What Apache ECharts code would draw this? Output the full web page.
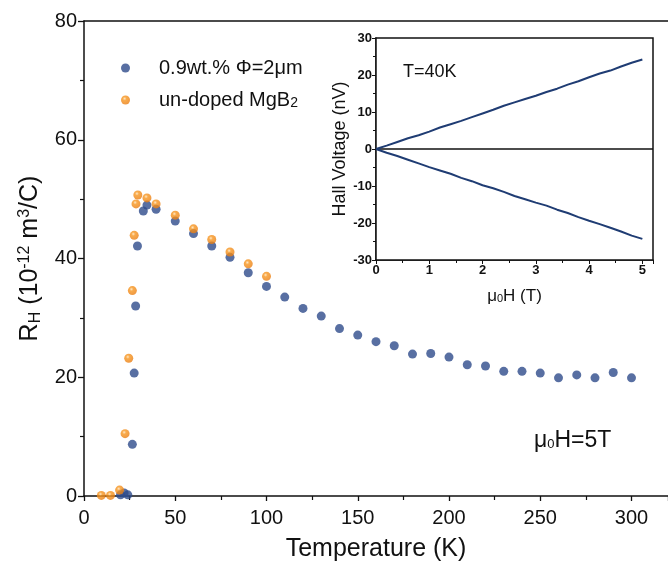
<!DOCTYPE html>
<html>
<head>
<meta charset="utf-8">
<script src="https://cdn.jsdelivr.net/npm/echarts@6/dist/echarts.min.js"></script>
<style>html,body{margin:0;padding:0;background:#fff}#c{width:668px;height:567px}</style>
</head>
<body>
<div id="c"></div>
<script>
// Main chart: Hall coefficient R_H vs temperature (mu0H = 5 T)
const dopedT = [20, 22, 24, 26.5, 27.5, 28.3, 29.3, 32.5, 34.5, 39.5, 50, 60, 70, 80, 90, 100, 110, 120, 130, 140, 150, 160, 170, 180, 190, 200, 210, 220, 230, 240, 250, 260, 270, 280, 290, 300];
const dopedRH = [0.2, 0.5, 0.2, 8.7, 20.7, 32.0, 42.1, 48.0, 49.0, 48.3, 46.3, 44.2, 42.1, 40.2, 37.6, 35.3, 33.5, 31.6, 30.3, 28.2, 27.1, 26.0, 25.3, 23.9, 24.0, 23.4, 22.1, 21.9, 21.0, 21.0, 20.7, 19.9, 20.4, 19.9, 20.8, 19.9];
const undopedT = [9.5, 14.5, 19.5, 22.5, 24.5, 26.5, 27.5, 28.5, 29.5, 34.5, 39.5, 50, 60, 70, 80, 90, 100];
const undopedRH = [0.1, 0.1, 1.0, 10.5, 23.2, 34.6, 43.9, 49.2, 50.7, 50.2, 49.2, 47.3, 45.0, 43.2, 41.1, 39.1, 37.0];
const seriesNames = ['0.9wt.% Φ=2μm', 'un-doped MgB2'];
const xTicks = [0, 50, 100, 150, 200, 250, 300];
const yTicks = [0, 20, 40, 60, 80];

// Inset: Hall voltage vs field at T = 40 K
const insetH = [0, 0.2, 0.4, 0.6, 0.8, 1.0, 1.2, 1.4, 1.6, 1.8, 2.0, 2.2, 2.4, 2.6, 2.8, 3.0, 3.2, 3.4, 3.6, 3.8, 4.0, 4.2, 4.4, 4.6, 4.8, 5.0];
const insetUp = [0, 0.9, 1.9, 2.9, 3.7, 4.7, 5.8, 6.7, 7.6, 8.6, 9.6, 10.6, 11.7, 12.6, 13.5, 14.4, 15.4, 16.3, 17.4, 18.3, 19.4, 20.4, 21.2, 22.3, 23.3, 24.2];
const insetDown = [0, -1.0, -1.9, -2.9, -3.9, -4.9, -5.8, -6.7, -7.8, -8.7, -9.8, -10.6, -11.6, -12.7, -13.6, -14.5, -15.3, -16.4, -17.3, -18.4, -19.4, -20.3, -21.3, -22.3, -23.4, -24.3];

const pair = (xs, ys) => xs.map((x, i) => [x, ys[i]]);
const chart = echarts.init(document.getElementById('c'), null, {renderer: 'canvas'});
const FONT = 'Liberation Sans, Arial, sans-serif';
const navy = '#2e4b8b';
const orangeGrad = {type: 'radial', x: 0.4, y: 0.35, r: 0.7, colorStops: [
  {offset: 0, color: '#ffe2b8'}, {offset: 0.3, color: '#f7961f'}, {offset: 1, color: '#e97c12'}]};

chart.setOption({
  animation: false,
  backgroundColor: '#fff',
  textStyle: {fontFamily: FONT},
  grid: [
    {left: 84, top: 21, right: 0, bottom: 71, show: false},
    {left: 376, top: 38, width: 277, height: 222, show: true, backgroundColor: '#fff', borderColor: '#111', borderWidth: 1.5, z: 5}
  ],
  legend: {
    data: seriesNames, orient: 'vertical', left: 116, top: 53, itemGap: 12,
    icon: 'circle', itemWidth: 9, itemHeight: 9,
    textStyle: {fontSize: 20, color: '#111', fontFamily: FONT, padding: [0, 0, 0, 24],
      rich: {s: {fontSize: 14, fontFamily: FONT, color: '#111', padding: [7, 0, 0, 0]}}},
    formatter: n => n === 'un-doped MgB2' ? 'un-doped MgB{s|2}' : n
  },
  xAxis: [
    {gridIndex: 0, type: 'value', min: 0, max: 320, interval: 50,
      name: 'Temperature (K)', nameLocation: 'middle', nameGap: 41,
      nameTextStyle: {fontSize: 25, color: '#111', fontFamily: FONT},
      axisLine: {lineStyle: {color: '#111', width: 1.5}},
      axisTick: {length: 5, lineStyle: {color: '#111', width: 1.3}},
      minorTick: {show: true, splitNumber: 2, length: 4, lineStyle: {color: '#111', width: 1.2}},
      axisLabel: {fontSize: 20, color: '#111', margin: 12, showMaxLabel: false,
        formatter: v => xTicks.includes(v) ? String(v) : ''},
      splitLine: {show: false}},
    {gridIndex: 0, type: 'value', position: 'top', min: 0, max: 320,
      axisLine: {show: true, lineStyle: {color: '#111', width: 1.5}},
      axisTick: {show: false}, axisLabel: {show: false}, splitLine: {show: false}},
    {gridIndex: 1, type: 'value', min: 0, max: 5.2, interval: 1,
      name: '{t|μ}{s|0}{t|H (T)}', nameLocation: 'middle', nameGap: 28,
      nameTextStyle: {rich: {t: {fontSize: 17, color: '#111', fontFamily: FONT},
        s: {fontSize: 11, color: '#111', fontFamily: FONT, padding: [5, 0, 0, 0]}}},
      axisLine: {onZero: false, lineStyle: {color: '#111', width: 1.5}},
      axisTick: {length: 4, lineStyle: {color: '#111'}},
      minorTick: {show: true, splitNumber: 2, length: 3, lineStyle: {color: '#111'}},
      axisLabel: {fontSize: 13, fontWeight: 'bold', color: '#111', margin: 4, showMaxLabel: false,
        formatter: v => Number.isInteger(v) ? String(v) : ''},
      splitLine: {show: false}}
  ],
  yAxis: [
    {gridIndex: 0, type: 'value', min: 0, max: 80, interval: 20,
      name: '{b|R}{s|H}{b| (10}{p|-12}{b| m}{p|3}{b|/C)}', nameLocation: 'middle', nameGap: 36, nameRotate: 90,
      nameTextStyle: {rich: {
        b: {fontSize: 25, color: '#111', fontFamily: FONT, lineHeight: 30},
        s: {fontSize: 16, color: '#111', fontFamily: FONT, padding: [11, 0, 0, 0], lineHeight: 30},
        p: {fontSize: 16, color: '#111', fontFamily: FONT, padding: [0, 0, 11, 0], lineHeight: 30}}},
      axisLine: {lineStyle: {color: '#111', width: 1.5}},
      axisTick: {length: 6, lineStyle: {color: '#111', width: 1.3}},
      minorTick: {show: true, splitNumber: 2, length: 4, lineStyle: {color: '#111', width: 1.2}},
      axisLabel: {fontSize: 20, color: '#111', margin: 7},
      splitLine: {show: false}},
    {gridIndex: 1, type: 'value', min: -30, max: 30, interval: 10,
      name: 'Hall Voltage (nV)', nameLocation: 'middle', nameGap: 27, nameRotate: 90,
      nameTextStyle: {fontSize: 18, color: '#111', fontFamily: FONT},
      axisLine: {onZero: false, lineStyle: {color: '#111', width: 1.5}},
      axisTick: {length: 4, lineStyle: {color: '#111'}},
      minorTick: {show: true, splitNumber: 2, length: 3, lineStyle: {color: '#111'}},
      axisLabel: {fontSize: 13, fontWeight: 'bold', color: '#111', margin: 4},
      splitLine: {show: false}}
  ],
  series: [
    {name: seriesNames[0], type: 'scatter', xAxisIndex: 0, yAxisIndex: 0,
      data: pair(dopedT, dopedRH), symbolSize: 9, itemStyle: {color: navy}, z: 2},
    {name: seriesNames[1], type: 'scatter', xAxisIndex: 0, yAxisIndex: 0,
      data: pair(undopedT, undopedRH), symbolSize: 9, itemStyle: {color: orangeGrad}, z: 3},
    {name: 'up', type: 'line', xAxisIndex: 2, yAxisIndex: 1, data: pair(insetH, insetUp),
      showSymbol: false, lineStyle: {color: '#1f3c73', width: 2}, z: 6,
      markLine: {silent: true, symbol: 'none', label: {show: false},
        lineStyle: {color: '#111', width: 1.5, type: 'solid'}, data: [{yAxis: 0}]}},
    {name: 'down', type: 'line', xAxisIndex: 2, yAxisIndex: 1, data: pair(insetH, insetDown),
      showSymbol: false, lineStyle: {color: '#1f3c73', width: 2}, z: 6}
  ],
  graphic: [
    {type: 'text', left: 403, top: 63, z: 10, style: {text: 'T=40K', fontSize: 18, fill: '#111', fontFamily: FONT}},
    {type: 'text', left: 534, top: 429, z: 10, style: {text: '{t|μ}{s|0}{t|H=5T}', fontFamily: FONT,
      rich: {t: {fontSize: 23, fill: '#111', fontFamily: FONT}, s: {fontSize: 13, fill: '#111', fontFamily: FONT, padding: [7, 0, 0, 0]}}}}
  ]
});
</script>
</body>
</html>
